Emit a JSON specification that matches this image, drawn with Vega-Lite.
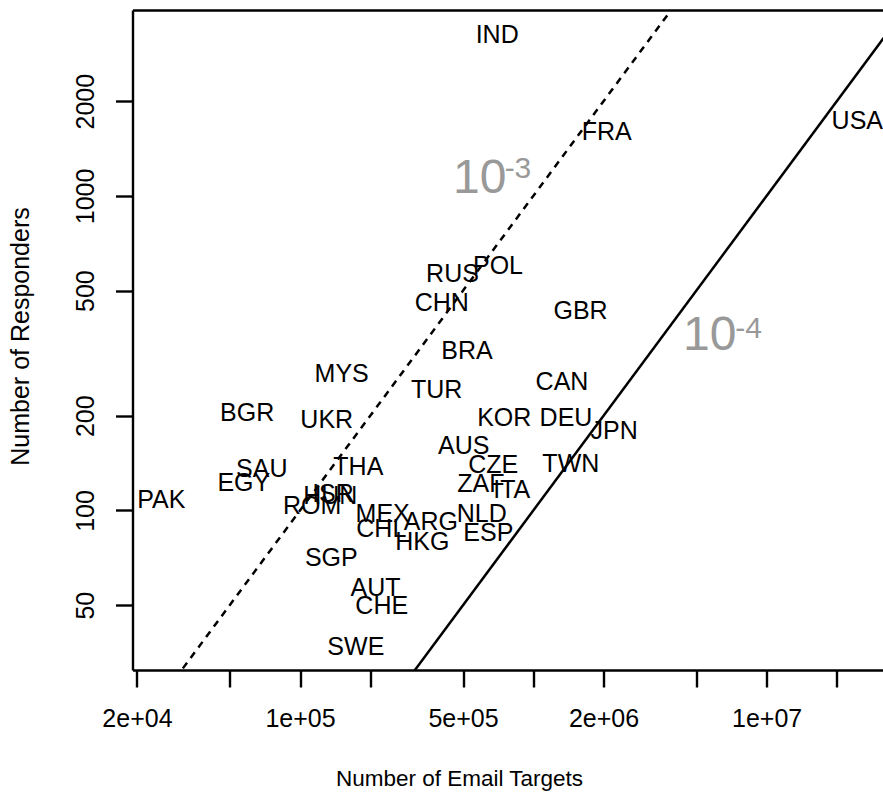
{
  "$schema": "https://vega.github.io/schema/vega-lite/v6.json",
  "width": 750.5,
  "height": 660,
  "autosize": {"type": "none"},
  "padding": {"left": 132.5, "top": 10, "right": 0, "bottom": 128},
  "background": "white",
  "config": {
    "view": {"stroke": null},
    "font": "Liberation Sans",
    "axis": {
      "grid": false,
      "domainColor": "black",
      "domainWidth": 2.4,
      "tickColor": "black",
      "tickWidth": 2.4,
      "tickSize": 17,
      "labelFont": "Liberation Sans",
      "labelFontSize": 25,
      "labelColor": "black",
      "titleFont": "Liberation Sans",
      "titleFontSize": 25,
      "titleFontWeight": "normal",
      "titleColor": "black",
      "labelOverlap": false,
      "labelFlush": false
    }
  },
  "datasets": {
    "countries": [
      {"country": "IND", "targets": 700000, "responders": 3280},
      {"country": "FRA", "targets": 2063000, "responders": 1612},
      {"country": "USA", "targets": 24470000, "responders": 1748},
      {"country": "RUS", "targets": 450500, "responders": 568},
      {"country": "POL", "targets": 705700, "responders": 603},
      {"country": "CHN", "targets": 405000, "responders": 461},
      {"country": "GBR", "targets": 1594000, "responders": 434},
      {"country": "BRA", "targets": 519800, "responders": 323},
      {"country": "MYS", "targets": 150900, "responders": 274},
      {"country": "TUR", "targets": 385400, "responders": 243},
      {"country": "CAN", "targets": 1327000, "responders": 257},
      {"country": "BGR", "targets": 59380, "responders": 206},
      {"country": "UKR", "targets": 130200, "responders": 196},
      {"country": "KOR", "targets": 750500, "responders": 198},
      {"country": "DEU", "targets": 1381000, "responders": 197.5},
      {"country": "JPN", "targets": 2222000, "responders": 180},
      {"country": "AUS", "targets": 503000, "responders": 162},
      {"country": "CZE", "targets": 673600, "responders": 141},
      {"country": "TWN", "targets": 1448000, "responders": 142},
      {"country": "THA", "targets": 177800, "responders": 138},
      {"country": "SAU", "targets": 68600, "responders": 136},
      {"country": "EGY", "targets": 57420, "responders": 123},
      {"country": "ZAF", "targets": 595700, "responders": 122.5},
      {"country": "ITA", "targets": 808000, "responders": 117},
      {"country": "PAK", "targets": 25440, "responders": 109},
      {"country": "ISR", "targets": 138500, "responders": 114},
      {"country": "HUN", "targets": 134900, "responders": 112},
      {"country": "ROM", "targets": 112800, "responders": 104},
      {"country": "MEX", "targets": 226200, "responders": 98},
      {"country": "NLD", "targets": 600900, "responders": 98.3},
      {"country": "CHL", "targets": 223100, "responders": 88},
      {"country": "ARG", "targets": 363700, "responders": 92.9},
      {"country": "ESP", "targets": 641300, "responders": 85.6},
      {"country": "HKG", "targets": 334400, "responders": 79.9},
      {"country": "SGP", "targets": 136200, "responders": 71.1},
      {"country": "AUT", "targets": 210700, "responders": 56.9},
      {"country": "CHE", "targets": 224000, "responders": 49.9},
      {"country": "SWE", "targets": 173500, "responders": 37}
    ],
    "lines": [
      {"rate": "1e-3", "targets": 10000, "responders": 10},
      {"rate": "1e-3", "targets": 10000000, "responders": 10000},
      {"rate": "1e-4", "targets": 100000, "responders": 10},
      {"rate": "1e-4", "targets": 100000000, "responders": 10000}
    ],
    "annot": [
      {"part": "base", "text": "10", "targets": 453200, "responders": 1020},
      {"part": "sup", "text": "-3", "targets": 753500, "responders": 1138},
      {"part": "base", "text": "10", "targets": 4386000, "responders": 323.8},
      {"part": "sup", "text": "-4", "targets": 7342000, "responders": 352.7}
    ]
  },
  "layer": [
    {
      "data": {"name": "countries"},
      "mark": {"type": "text", "fontSize": 25, "font": "Liberation Sans", "color": "black", "align": "center", "baseline": "middle", "dy": 1},
      "encoding": {
        "x": {
          "field": "targets", "type": "quantitative",
          "scale": {"type": "log", "domain": [19145, 31540000], "nice": false, "zero": false},
          "axis": {
            "orient": "bottom",
            "values": [20000, 50000, 100000, 200000, 500000, 1000000, 2000000, 5000000, 10000000, 20000000],
            "labelExpr": "datum.value == 20000 ? '2e+04' : datum.value == 100000 ? '1e+05' : datum.value == 500000 ? '5e+05' : datum.value == 2000000 ? '2e+06' : datum.value == 10000000 ? '1e+07' : ''",
            "labelPadding": 19,
            "labelBaseline": "top",
            "title": "Number of Email Targets",
            "titleFontSize": 22.5,
            "titleX": 326.5,
            "titleY": 115,
            "titleAlign": "center",
            "titleBaseline": "alphabetic"
          }
        },
        "y": {
          "field": "responders", "type": "quantitative",
          "scale": {"type": "log", "domain": [31.1, 3899], "nice": false, "zero": false},
          "axis": {
            "values": [50, 100, 200, 500, 1000, 2000],
            "format": "d",
            "labelAngle": 270,
            "labelAlign": "center",
            "labelBaseline": "alphabetic",
            "labelPadding": 22,
            "title": "Number of Responders",
            "titleX": -104.5,
            "titleY": 326,
            "titleAngle": 270,
            "titleAlign": "center",
            "titleBaseline": "alphabetic"
          }
        },
        "text": {"field": "country", "type": "nominal"}
      }
    },
    {
      "data": {"name": "lines"},
      "transform": [{"filter": "datum.rate == '1e-3'"}],
      "mark": {"type": "line", "color": "black", "strokeWidth": 2.5, "strokeDash": [7, 6], "clip": true},
      "encoding": {
        "x": {"field": "targets", "type": "quantitative", "axis": {"orient": "top", "labels": false, "ticks": false, "title": null, "domain": true}},
        "y": {"field": "responders", "type": "quantitative"}
      }
    },
    {
      "data": {"name": "lines"},
      "transform": [{"filter": "datum.rate == '1e-4'"}],
      "mark": {"type": "line", "color": "black", "strokeWidth": 2.5, "clip": true},
      "encoding": {
        "x": {"field": "targets", "type": "quantitative", "axis": null},
        "y": {"field": "responders", "type": "quantitative"}
      }
    },
    {
      "data": {"name": "annot"},
      "transform": [{"filter": "datum.part == 'base'"}],
      "mark": {"type": "text", "fontSize": 48, "font": "Liberation Sans", "color": "#999999", "align": "left", "baseline": "alphabetic"},
      "encoding": {
        "x": {"field": "targets", "type": "quantitative", "axis": null},
        "y": {"field": "responders", "type": "quantitative"},
        "text": {"field": "text", "type": "nominal"}
      }
    },
    {
      "data": {"name": "annot"},
      "transform": [{"filter": "datum.part == 'sup'"}],
      "mark": {"type": "text", "fontSize": 30, "font": "Liberation Sans", "color": "#999999", "align": "left", "baseline": "alphabetic"},
      "encoding": {
        "x": {"field": "targets", "type": "quantitative", "axis": null},
        "y": {"field": "responders", "type": "quantitative"},
        "text": {"field": "text", "type": "nominal"}
      }
    }
  ],
  "resolve": {"axis": {"x": "independent"}}
}
